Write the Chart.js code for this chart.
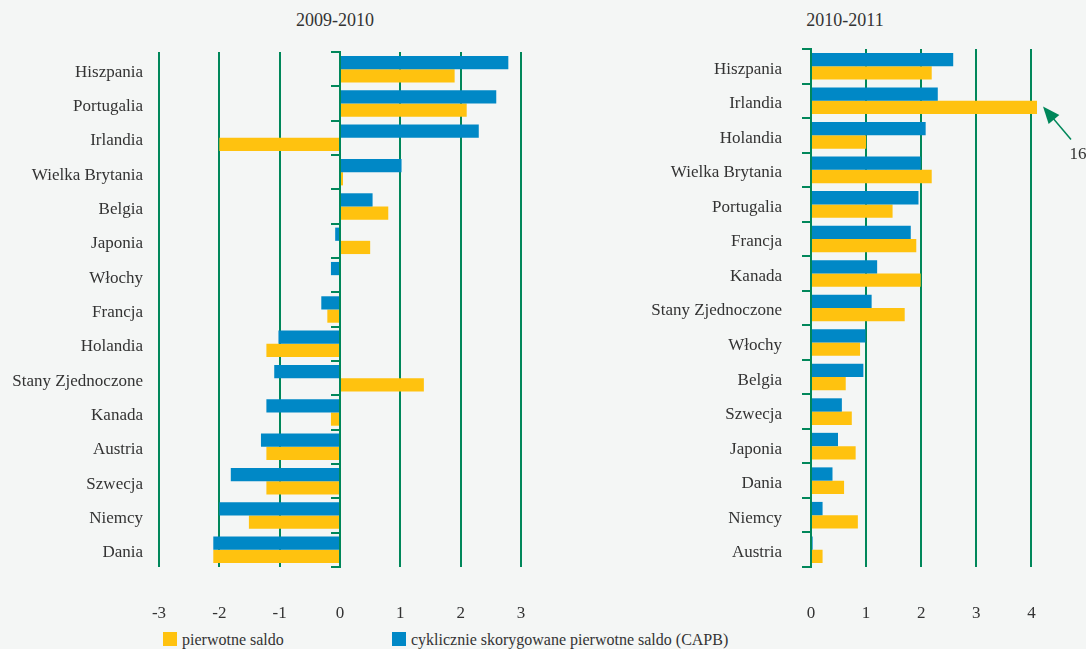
<!DOCTYPE html>
<html>
<head>
<meta charset="utf-8">
<script src="https://cdn.jsdelivr.net/npm/chart.js@4"></script>
<style>
  body { margin: 0; background: #f4f6f5; }
  #wrap { position: relative; width: 1086px; height: 649px; background: #f4f6f5; overflow: hidden;
          font-family: 'Liberation Serif', 'DejaVu Serif', serif; color: #333; }
  canvas { position: absolute; top: 0; }
  .title { position: absolute; top: 10px; width: 200px; text-align: center; font-size: 18px; }
  .legend { position: absolute; top: 630px; font-size: 16px; line-height: 20px; }
  .legend span.box { display: inline-block; width: 14px; height: 14px; vertical-align: -1px; margin-right: 5px; }
</style>
</head>
<body>
<div id="wrap">
  <div class="title" style="left:235px">2009-2010</div>
  <div class="title" style="left:745px">2010-2011</div>
  <canvas id="left" width="540" height="625" style="left:0"></canvas>
  <canvas id="right" width="541" height="625" style="left:545px"></canvas>
  <div class="legend" style="left:163px"><span class="box" style="background:#ffc20f"></span>pierwotne saldo</div>
  <div class="legend" style="left:392px"><span class="box" style="background:#0088c6"></span>cyklicznie skorygowane pierwotne saldo (CAPB)</div>
</div>
<script>
// 2009-2010
const countries0910 = ['Hiszpania', 'Portugalia', 'Irlandia', 'Wielka Brytania', 'Belgia', 'Japonia', 'Włochy',
    'Francja', 'Holandia', 'Stany Zjednoczone', 'Kanada', 'Austria', 'Szwecja', 'Niemcy', 'Dania'];
const capb0910 = [2.79, 2.59, 2.30, 1.02, 0.54, -0.08, -0.15, -0.31, -1.02, -1.09, -1.22, -1.31, -1.81, -2.0, -2.10];
const primary0910 = [1.90, 2.10, -2.0, 0.05, 0.80, 0.50, 0, -0.21, -1.22, 1.39, -0.15, -1.22, -1.22, -1.51, -2.10];
const xTicks0910 = [-3, -2, -1, 0, 1, 2, 3];

// 2010-2011
const countries1011 = ['Hiszpania', 'Irlandia', 'Holandia', 'Wielka Brytania', 'Portugalia', 'Francja', 'Kanada',
    'Stany Zjednoczone', 'Włochy', 'Belgia', 'Szwecja', 'Japonia', 'Dania', 'Niemcy', 'Austria'];
const capb1011 = [2.58, 2.30, 2.08, 1.99, 1.95, 1.81, 1.20, 1.10, 0.99, 0.95, 0.56, 0.49, 0.39, 0.21, 0.03];
const primary1011 = [2.19, 16, 1.0, 2.19, 1.48, 1.91, 1.99, 1.70, 0.89, 0.63, 0.74, 0.81, 0.60, 0.85, 0.21];
const xTicks1011 = [0, 1, 2, 3, 4];
const xCut1011 = 4.1; // axis is cut here, Irlandia goes off scale

const BLUE = '#0088c6';
const YELLOW = '#ffc20f';
const GREEN = '#00875a';
const TEXT = '#333';
const FONT = "'Liberation Serif', 'DejaVu Serif', serif";

// short ticks at category boundaries, left of the zero line
const categoryTicks = {
    id: 'categoryTicks',
    afterDraw(chart) {
        const { ctx, scales: { x, y } } = chart;
        const x0 = x.getPixelForValue(0);
        const n = chart.data.labels.length;
        const half = (y.getPixelForValue(1) - y.getPixelForValue(0)) / 2;
        ctx.save();
        ctx.strokeStyle = GREEN;
        ctx.lineWidth = 2;
        ctx.beginPath();
        ctx.moveTo(x0, y.getPixelForValue(0) - half);
        ctx.lineTo(x0, y.getPixelForValue(n - 1) + half);
        for (let i = 0; i <= n; i++) {
            const py = Math.round(y.getPixelForValue(i) - half);
            ctx.moveTo(x0 - 9, py);
            ctx.lineTo(x0 + 1, py);
        }
        ctx.stroke();
        ctx.restore();
    }
};

// arrow + value for bars running past the end of the axis
const offScale = {
    id: 'offScale',
    afterDraw(chart) {
        const { ctx, chartArea, scales: { x } } = chart;
        chart.data.datasets.forEach((ds, di) => {
            const meta = chart.getDatasetMeta(di);
            ds.data.forEach((v, i) => {
                if (v <= x.max) return;
                const bar = meta.data[i];
                const tipX = chartArea.right + 6, tipY = bar.y - 1;
                const tailX = tipX + 28, tailY = tipY + 33;
                const len = Math.hypot(tailX - tipX, tailY - tipY);
                const ux = (tailX - tipX) / len, uy = (tailY - tipY) / len;
                ctx.save();
                ctx.strokeStyle = GREEN;
                ctx.fillStyle = GREEN;
                ctx.lineWidth = 1.5;
                ctx.beginPath();
                ctx.moveTo(tipX + ux * 10, tipY + uy * 10);
                ctx.lineTo(tailX, tailY);
                ctx.stroke();
                ctx.beginPath();
                ctx.moveTo(tipX, tipY);
                ctx.lineTo(tipX + ux * 17 - uy * 7, tipY + uy * 17 + ux * 7);
                ctx.lineTo(tipX + ux * 17 + uy * 7, tipY + uy * 17 - ux * 7);
                ctx.closePath();
                ctx.fill();
                ctx.fillStyle = TEXT;
                ctx.font = '17px ' + FONT;
                ctx.textAlign = 'center';
                ctx.textBaseline = 'middle';
                ctx.fillText(String(v), tailX + 7, tailY + 15);
                ctx.restore();
            });
        });
    }
};

function makeChart(id, labels, capb, primary, ticks, xMax, opts) {
    return new Chart(document.getElementById(id), {
        type: 'bar',
        data: {
            labels: labels,
            datasets: [
                { label: 'cyklicznie skorygowane pierwotne saldo (CAPB)', data: capb, backgroundColor: BLUE, clip: 0 },
                { label: 'pierwotne saldo', data: primary, backgroundColor: YELLOW, clip: 0 }
            ]
        },
        options: {
            indexAxis: 'y',
            responsive: false,
            animation: false,
            datasets: { bar: { barPercentage: 1.0, categoryPercentage: 0.77 } },
            layout: { padding: { top: opts.top, right: opts.right, left: 0, bottom: 0 } },
            plugins: { legend: { display: false }, tooltip: { enabled: false } },
            scales: {
                x: {
                    min: ticks[0],
                    max: xMax,
                    z: 1,
                    afterFit: s => {
                        s.height = 58;
                        // tick padding is only meant to push labels down, not in from the sides
                        s.paddingLeft = 0;
                        s.paddingRight = 0;
                    },
                    grid: { color: GREEN, lineWidth: 2, drawTicks: false },
                    border: { display: false },
                    ticks: {
                        stepSize: 1,
                        includeBounds: false,
                        padding: 36,
                        color: TEXT,
                        font: { family: FONT, size: 17 }
                    }
                },
                y: {
                    afterFit: s => { s.width = opts.axisWidth; },
                    grid: { display: false, drawTicks: false },
                    border: { display: false },
                    ticks: {
                        padding: opts.labelPad,
                        labelOffset: 3,
                        color: TEXT,
                        font: { family: FONT, size: 17 }
                    }
                }
            }
        },
        plugins: [categoryTicks, offScale]
    });
}

makeChart('left', countries0910, capb0910, primary0910, xTicks0910, xTicks0910[xTicks0910.length - 1],
    { top: 52, right: 19, axisWidth: 159, labelPad: 16 });
makeChart('right', countries1011, capb1011, primary1011, xTicks1011, xCut1011,
    { top: 49, right: 49, axisWidth: 266, labelPad: 29 });
</script>
</body>
</html>
